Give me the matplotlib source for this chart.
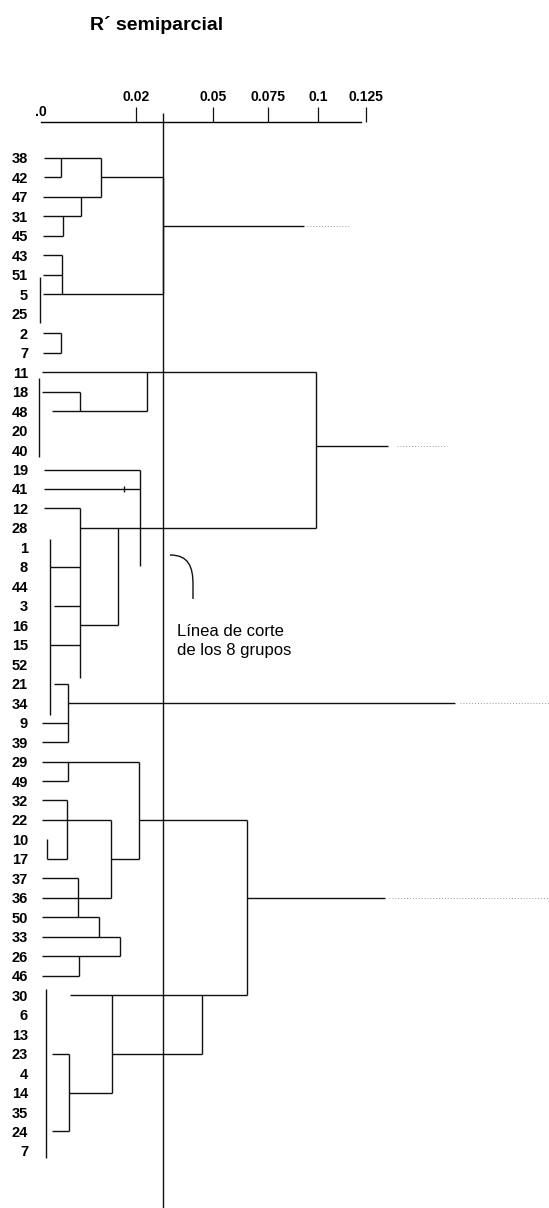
import numpy as np
import matplotlib
matplotlib.use("Agg")
import matplotlib.pyplot as plt
from matplotlib.path import Path
from matplotlib.patches import PathPatch

plt.rcParams['font.family'] = ['Liberation Sans', 'DejaVu Sans']

# ---- leaves, top to bottom -------------------------------------------------
leaf_labels = ["38", "42", "47", "31", "45", "43", "51", "5", "25", "2", "7",
               "11", "18", "48", "20", "40", "19", "41", "12", "28", "1", "8",
               "44", "3", "16", "15", "52",
               "21", "34", "9", "39",
               "29", "49", "32", "22", "10", "17", "37", "36", "50", "33", "26", "46",
               "30", "6", "13", "23", "4", "14", "35", "24", "7"]

# ---- ruler of the semipartial R^2 --------------------------------------------
tick_values = [0.02, 0.05, 0.075, 0.1, 0.125]
tick_labels = ["0.02", "0.05", "0.075", "0.1", "0.125"]
cut_level = 0.0305          # cut giving the 8 groups

# the printed ruler is not linear: graduation value -> position along it
ruler_val = np.array([-0.01, 0.0, 0.02, 0.05, 0.075, 0.1, 0.125, 0.25])
ruler_pos = np.array([-6.5, 41.0, 136.0, 213.0, 268.0, 318.0, 366.0, 606.0])

# ---- horizontal links: (leaf row, R2 from, R2 to) ---------------------------
h_links = [
    (0, 0.0006, 0.0126), (1, 0.0006, 0.0042), (2, 0.0004, 0.0126),
    (3, 0.0004, 0.0084), (4, 0.0004, 0.0046), (1, 0.0126, 0.0305),
    (5, 0.0004, 0.0044), (6, 0.0004, 0.0044), (7, 0.0004, 0.0305),
    (3.5, 0.0305, 0.0930),
    (9, 0.0004, 0.0042), (10, 0.0004, 0.0042),
    (11, 0.0002, 0.0990), (12, 0.0002, 0.0082), (13, 0.0023, 0.0243),
    (16, 0.0006, 0.0216), (17, 0.0006, 0.0216), (18, 0.0006, 0.0082),
    (19, 0.0082, 0.0990), (21, 0.0019, 0.0082), (23, 0.0027, 0.0082),
    (24, 0.0082, 0.0162), (25, 0.0019, 0.0082), (14.8, 0.0990, 0.1365),
    (27, 0.0027, 0.0057), (28, 0.0057, 0.1714), (29, 0.0002, 0.0057),
    (30, 0.0002, 0.0057),
    (31, 0.0002, 0.0212), (32, 0.0002, 0.0057), (33, 0.0002, 0.0055),
    (34, 0.0002, 0.0147), (36, 0.0013, 0.0055), (36, 0.0147, 0.0212),
    (37, 0.0002, 0.0078), (38, 0.0002, 0.0147), (39, 0.0002, 0.0122),
    (40, 0.0002, 0.0166), (41, 0.0002, 0.0166), (42, 0.0002, 0.0080),
    (34, 0.0212, 0.0655), (38, 0.0655, 0.1349),
    (43, 0.0061, 0.0655), (46, 0.0023, 0.0059), (46, 0.0149, 0.0457),
    (48, 0.0059, 0.0149), (50, 0.0023, 0.0059),
]

# ---- vertical links: (R2 level, leaf row from, leaf row to) ------------------
v_links = [
    (0.0042, 0, 1), (0.0126, 0, 2), (0.0084, 2, 3), (0.0046, 3, 4),
    (0.0044, 5, 7), (0.0305, 1, 7), (-0.0002, 6.1, 8.5), (0.0042, 9, 10),
    (0.0243, 11, 13), (0.0082, 12, 13), (-0.0004, 11.3, 15.36),
    (0.0216, 16, 20.95), (0.0175, 16.85, 17.15), (0.0082, 18, 26.7),
    (0.0162, 19, 24), (0.0990, 11, 19), (0.0019, 19.57, 28.6),
    (0.0057, 27, 30),
    (0.0057, 31, 32), (0.0212, 31, 36), (0.0055, 33, 36), (0.0013, 35, 36),
    (0.0147, 34, 38), (0.0078, 37, 39), (0.0122, 39, 40), (0.0166, 40, 41),
    (0.0080, 41, 42), (0.0655, 34, 43),
    (0.0011, 42.7, 51.36), (0.0149, 43, 48), (0.0457, 43, 46),
    (0.0059, 46, 50),
]

# ---- faint continuation of the four top branches ----------------------------
tails = [(3.5, 0.0945, 0.1167), (14.8, 0.1411, 0.1672),
         (28, 0.1740, 0.2203), (38, 0.1370, 0.2203)]


def fwd(v):
    return np.interp(v, ruler_val, ruler_pos)


def inv(p):
    return np.interp(p, ruler_pos, ruler_val)


W, H = 549, 1208
fig = plt.figure(figsize=(W / 100, H / 100), dpi=100)
ax = fig.add_axes([28 / W, 0, 1 - 28 / W, 1 - 122 / H])
ax.set_xscale('function', functions=(fwd, inv))
ax.set_xlim(-0.00274, 0.2203)
ax.set_ylim(53.93, -1.849)

lc = '#111111'
hy, hx0, hx1 = zip(*h_links)
ax.hlines(hy, hx0, hx1, colors=lc, lw=1.0)
vx, vy0, vy1 = zip(*v_links)
ax.vlines(vx, vy0, vy1, colors=lc, lw=1.0)
ty, tx0, tx1 = zip(*tails)
ax.hlines(ty, tx0, tx1, colors='#9a9a9a', lw=0.7, linestyles=(0, (1, 2)))

# cut line through the whole tree
ax.vlines([cut_level], -2.31, 53.93, colors=lc, lw=1.0, clip_on=False)

# ruler on top
for s in ('left', 'right', 'bottom'):
    ax.spines[s].set_visible(False)
ax.spines['top'].set_bounds(0.0, 0.1224)
ax.spines['top'].set_linewidth(1.0)
ax.xaxis.tick_top()
ax.set_xticks(tick_values)
ax.set_xticklabels(tick_labels)
ax.tick_params(axis='x', direction='out', length=11, width=0.9, pad=2.2,
               labelsize=10, color=lc)
for t in ax.get_xticklabels():
    t.set_fontweight('bold')
ax.text(0.0, -2.35, ".0", ha='center', va='center', fontsize=10,
        fontweight='bold', clip_on=False)

# leaf labels
ax.set_yticks(range(len(leaf_labels)))
ax.set_yticklabels(leaf_labels)
ax.tick_params(axis='y', length=0, pad=0, labelsize=10.5)
for t in ax.get_yticklabels():
    t.set_fontweight('bold')

# annotation of the cut
verts = [(0.0332, 20.39), (0.0405, 20.39), (0.0422, 21.0), (0.0422, 21.9),
         (0.0422, 22.65)]
codes = [Path.MOVETO, Path.CURVE4, Path.CURVE4, Path.CURVE4, Path.LINETO]
ax.add_patch(PathPatch(Path(verts, codes), fill=False, ec=lc, lw=1.0))
ax.text(0.036, 24.8, "Línea de corte\nde los 8 grupos", ha='left', va='center',
        fontsize=12, linespacing=1.3, color='black')

fig.text(90 / W, 1 - 25 / H, "R´ semiparcial", ha='left', va='center',
         fontsize=14, fontweight='bold')

fig.savefig("out.png", dpi=100)
